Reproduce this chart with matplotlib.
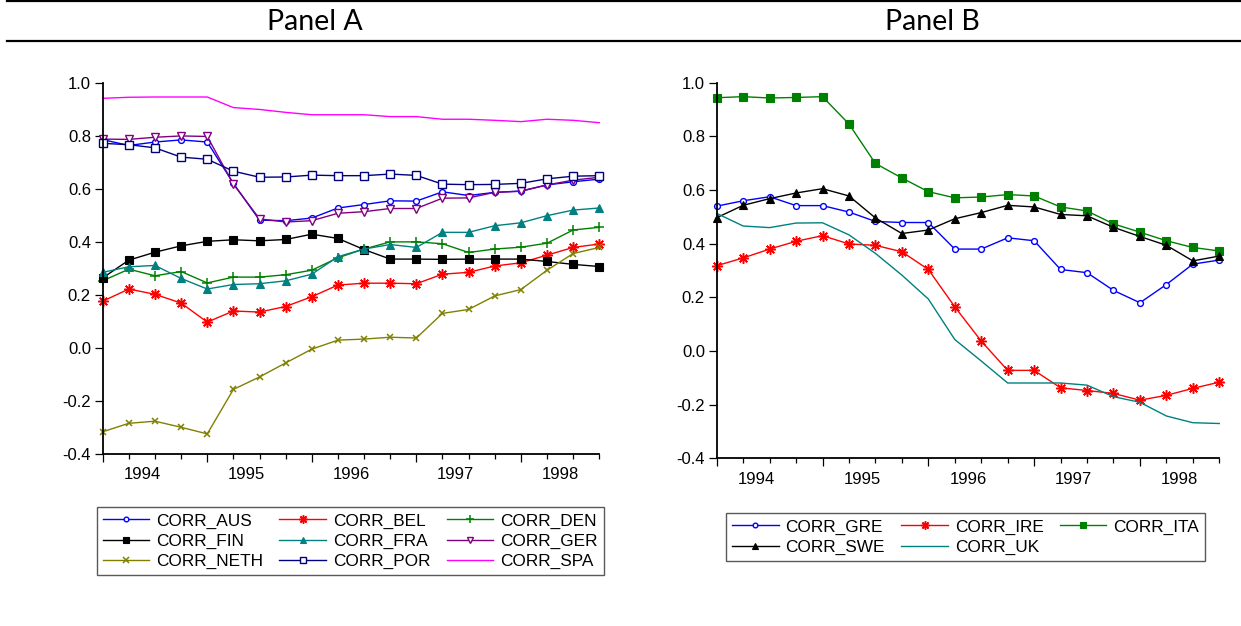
import numpy as np
import matplotlib
matplotlib.use("Agg")
import matplotlib.pyplot as plt
from matplotlib.lines import Line2D
from matplotlib.ticker import FormatStrFormatter, MultipleLocator

plt.rcParams['font.family'] = ['Liberation Sans', 'DejaVu Sans']
plt.rcParams['axes.unicode_minus'] = False

# ---------------- data (quarterly, 1994Q1 - 1998Q4) ----------------
years = ["1994", "1995", "1996", "1997", "1998"]
quarters_per_year = 4

# Panel A
corr_aus = [0.785, 0.763, 0.776, 0.784, 0.776, 0.620, 0.481, 0.479, 0.489, 0.527,
            0.540, 0.554, 0.553, 0.588, 0.574, 0.586, 0.591, 0.614, 0.626, 0.636]
corr_bel = [0.175, 0.221, 0.201, 0.168, 0.096, 0.138, 0.134, 0.155, 0.192, 0.236,
            0.243, 0.243, 0.241, 0.277, 0.284, 0.308, 0.320, 0.349, 0.378, 0.391]
corr_den = [0.252, 0.296, 0.271, 0.287, 0.244, 0.266, 0.266, 0.275, 0.292, 0.339,
            0.372, 0.399, 0.399, 0.392, 0.359, 0.372, 0.379, 0.394, 0.444, 0.454]
corr_fin = [0.263, 0.330, 0.360, 0.384, 0.401, 0.407, 0.403, 0.408, 0.428, 0.412,
            0.370, 0.334, 0.334, 0.333, 0.334, 0.334, 0.334, 0.325, 0.314, 0.306]
corr_fra = [0.284, 0.305, 0.310, 0.261, 0.221, 0.238, 0.241, 0.252, 0.277, 0.343,
            0.372, 0.389, 0.378, 0.435, 0.435, 0.460, 0.471, 0.498, 0.519, 0.527]
corr_ger = [0.787, 0.786, 0.794, 0.799, 0.797, 0.617, 0.486, 0.474, 0.479, 0.507,
            0.513, 0.525, 0.525, 0.564, 0.565, 0.586, 0.590, 0.614, 0.632, 0.643]
corr_neth = [-0.318, -0.286, -0.278, -0.301, -0.326, -0.158, -0.111, -0.058, -0.006, 0.028,
             0.032, 0.039, 0.036, 0.129, 0.144, 0.195, 0.219, 0.292, 0.355, 0.378]
corr_por = [0.771, 0.766, 0.754, 0.719, 0.711, 0.666, 0.643, 0.644, 0.651, 0.649,
            0.649, 0.655, 0.650, 0.617, 0.615, 0.616, 0.620, 0.637, 0.647, 0.649]
corr_spa = [0.941, 0.945, 0.946, 0.946, 0.946, 0.906, 0.899, 0.888, 0.879, 0.879,
            0.879, 0.872, 0.872, 0.862, 0.862, 0.858, 0.853, 0.862, 0.858, 0.849]

# Panel B
corr_gre = [0.540, 0.560, 0.575, 0.542, 0.542, 0.518, 0.483, 0.479, 0.479, 0.380,
            0.380, 0.422, 0.411, 0.304, 0.292, 0.226, 0.180, 0.248, 0.324, 0.339]
corr_ire = [0.318, 0.347, 0.380, 0.409, 0.430, 0.399, 0.394, 0.370, 0.304, 0.165,
            0.037, -0.072, -0.072, -0.137, -0.147, -0.158, -0.183, -0.165, -0.139, -0.116]
corr_ita = [0.944, 0.948, 0.943, 0.945, 0.948, 0.846, 0.699, 0.645, 0.594, 0.571,
            0.574, 0.583, 0.578, 0.537, 0.522, 0.474, 0.443, 0.411, 0.386, 0.373]
corr_swe = [0.497, 0.543, 0.568, 0.589, 0.605, 0.578, 0.496, 0.438, 0.451, 0.493,
            0.516, 0.543, 0.537, 0.509, 0.504, 0.461, 0.427, 0.394, 0.336, 0.354]
corr_uk = [0.513, 0.466, 0.460, 0.477, 0.478, 0.433, 0.364, 0.283, 0.194, 0.043,
           -0.037, -0.119, -0.119, -0.119, -0.127, -0.170, -0.191, -0.242, -0.267, -0.270]

# ---------------- styles ----------------
AST = (8, 2, 0)
styles_a = {
    "CORR_AUS": dict(color="#0000ff", marker="o", mfc="white", ms=4.2, mew=1.0),
    "CORR_BEL": dict(color="#ff0000", marker=AST, ms=7.5, mew=1.1),
    "CORR_DEN": dict(color="#008000", marker="+", ms=6.5, mew=1.1),
    "CORR_FIN": dict(color="#000000", marker="s", ms=5.3, mew=0.8),
    "CORR_FRA": dict(color="#008080", marker="^", ms=5.8, mew=0.8),
    "CORR_GER": dict(color="#800080", marker="v", mfc="white", ms=5.8, mew=1.0),
    "CORR_NETH": dict(color="#808000", marker="x", ms=5, mew=1.1),
    "CORR_POR": dict(color="#000080", marker="s", mfc="white", ms=5.3, mew=1.0),
    "CORR_SPA": dict(color="#ff00ff", marker=None),
}
styles_b = {
    "CORR_GRE": dict(color="#0000ff", marker="o", mfc="white", ms=4.2, mew=1.0),
    "CORR_IRE": dict(color="#ff0000", marker=AST, ms=7.5, mew=1.1),
    "CORR_ITA": dict(color="#008000", marker="s", ms=5.8, mew=0.8),
    "CORR_SWE": dict(color="#000000", marker="^", ms=5.8, mew=0.8),
    "CORR_UK": dict(color="#008080", marker=None),
}

series_a = {"CORR_AUS": corr_aus, "CORR_BEL": corr_bel, "CORR_DEN": corr_den,
            "CORR_FIN": corr_fin, "CORR_FRA": corr_fra, "CORR_GER": corr_ger,
            "CORR_NETH": corr_neth, "CORR_POR": corr_por, "CORR_SPA": corr_spa}
series_b = {"CORR_GRE": corr_gre, "CORR_IRE": corr_ire, "CORR_ITA": corr_ita,
            "CORR_SWE": corr_swe, "CORR_UK": corr_uk}

W, H = 1241, 626
fig = plt.figure(figsize=(W / 100, H / 100), dpi=100)


def px_axes(left, right, top, bottom):
    return fig.add_axes([left / W, 1 - bottom / H, (right - left) / W, (bottom - top) / H])


def style_axes(ax, n):
    ax.set_ylim(-0.4, 1.0)
    ax.set_xlim(0, n - 1)
    for s in ("top", "right"):
        ax.spines[s].set_visible(False)
    for s in ("left", "bottom"):
        ax.spines[s].set_linewidth(1.3)
    ax.yaxis.set_major_locator(MultipleLocator(0.2))
    ax.yaxis.set_major_formatter(FormatStrFormatter("%.1f"))
    ax.tick_params(axis="y", length=5.5, width=0.9, pad=3, labelsize=12)
    ax.xaxis.set_major_locator(MultipleLocator(quarters_per_year))
    ax.xaxis.set_minor_locator(MultipleLocator(1))
    ax.tick_params(axis="x", which="major", length=6, width=0.9, labelbottom=False)
    ax.tick_params(axis="x", which="minor", length=3.3, width=0.9)
    sec = ax.secondary_xaxis("bottom")
    pos = [i * quarters_per_year + (quarters_per_year - 1) / 2 for i in range(len(years))]
    sec.set_xticks(pos, labels=years)
    sec.tick_params(length=0, pad=9.5, labelsize=12)
    sec.spines["bottom"].set_visible(False)


def draw(ax, series, styles, order, legend_anchor):
    handles = {}
    for name, vals in series.items():
        st = dict(styles[name])
        x = np.arange(len(vals))
        (ln,) = ax.plot(x, vals, lw=1.0, label=name, clip_on=False, **st)
        handles[name] = ln
    style_axes(ax, len(next(iter(series.values()))))
    hs = [handles[k] for k in order]
    leg = fig.legend(hs, order, loc="upper left", bbox_to_anchor=legend_anchor,
                     ncol=3, fontsize=12.4, frameon=True, fancybox=False,
                     edgecolor="#303030", handlelength=2.7, handletextpad=0.4,
                     columnspacing=0.95, labelspacing=0.3, borderpad=0.35,
                     borderaxespad=0, markerscale=0.8)
    leg.get_frame().set_linewidth(1.0)
    return leg


axA = px_axes(102.7, 599.3, 82.7, 453.5)
axB = px_axes(716.7, 1219.3, 82.7, 458.4)

orderA = ["CORR_AUS", "CORR_FIN", "CORR_NETH", "CORR_BEL", "CORR_FRA", "CORR_POR",
          "CORR_DEN", "CORR_GER", "CORR_SPA"]
orderB = ["CORR_GRE", "CORR_SWE", "CORR_IRE", "CORR_UK", "CORR_ITA"]

draw(axA, series_a, styles_a, orderA, (96.7 / W, 1 - 507.3 / H))
draw(axB, series_b, styles_b, orderB, (726 / W, 1 - 513.3 / H))

# header rules and panel titles
for yy in (1.0, 41.0):
    fig.add_artist(Line2D([7 / W, 1.0], [1 - yy / H, 1 - yy / H],
                          transform=fig.transFigure, color="black", lw=1.6))
fig.text(315 / W, 1 - 22 / H, "Panel A", ha="center", va="center",
         fontsize=20.5, family="Lato")
fig.text(932 / W, 1 - 22 / H, "Panel B", ha="center", va="center",
         fontsize=20.5, family="Lato")

fig.savefig("out.png", dpi=100, facecolor="white")
